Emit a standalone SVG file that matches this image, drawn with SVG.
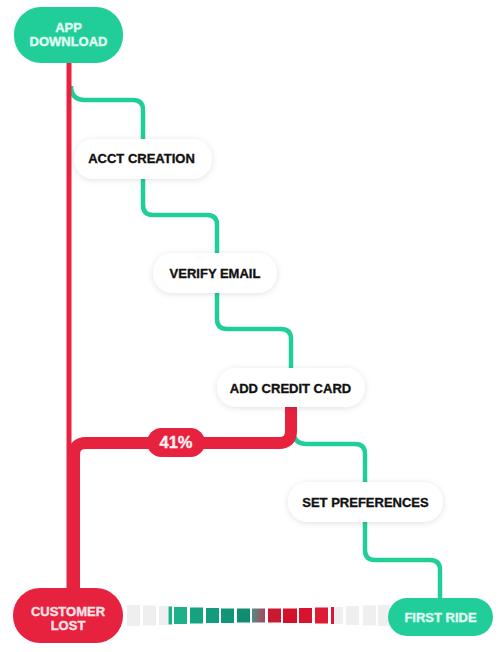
<svg xmlns="http://www.w3.org/2000/svg" width="504" height="652" viewBox="0 0 504 652">
<defs>
<style>
.g{fill:none;stroke:#21CE99;stroke-width:4.5;stroke-linecap:butt}
.r{fill:none;stroke:#E6223F;stroke-linecap:butt}
.w{fill:#FFFFFF;filter:url(#sh)}
.t{font-family:"Liberation Sans",Arial,sans-serif;font-weight:bold;font-size:13px;text-anchor:middle;stroke-width:0.35px}
.tb{fill:#111111;stroke:#111111}
.tg{fill:#E2FFF5;stroke:#E2FFF5}
.tr{fill:#FFE3E8;stroke:#FFE3E8}
.gy{fill:#EFEFEF}
</style>
<filter id="sh" x="-20%" y="-40%" width="140%" height="180%">
<feDropShadow dx="0" dy="1" stdDeviation="3" flood-color="#000000" flood-opacity="0.12"/>
</filter>
<linearGradient id="mix" x1="0" y1="0" x2="1" y2="0">
<stop offset="0" stop-color="#4F8E86"/>
<stop offset="1" stop-color="#A8475A"/>
</linearGradient>
</defs>
<rect width="504" height="652" fill="#FFFFFF"/>
<g id="connectors">
<path class="g" d="M71 86 Q71 100 85 100 H133 Q143 100 143 110 V140"/>
<path class="g" d="M143 178 V205 Q143 215 153 215 H207 Q217 215 217 225 V253"/>
<path class="g" d="M217 292 V319 Q217 329 227 329 H281 Q291 329 291 339 V368"/>
<path class="g" d="M293 430 Q293 444 307 444 H355 Q365 444 365 454 V483"/>
<path class="g" d="M365 522 V550 Q365 560 375 560 H430 Q440 560 440 570 V598"/>
<path class="r" stroke-width="5" d="M69 60 V592"/>
<path class="r" stroke-width="12" d="M291 405 V431 Q291 443 279 443 H86 Q74 443 74 455 V592"/>
</g>
<g id="bar">
<rect class="gy" x="127" y="605" width="13" height="21"/>
<rect class="gy" x="143" y="605.5" width="13" height="20"/>
<rect class="gy" x="159" y="606" width="9" height="19"/>
<rect fill="#1AB087" x="168.5" y="606.5" width="3.5" height="18"/>
<rect fill="#1DB089" x="174" y="607" width="13" height="17"/>
<rect fill="#15A280" x="190" y="607.5" width="13" height="16"/>
<rect fill="#129B7C" x="206" y="608" width="13" height="15"/>
<rect fill="#109577" x="221" y="608.5" width="13" height="14.5"/>
<rect fill="#0E8D72" x="237" y="608.5" width="13" height="14"/>
<rect fill="url(#mix)" x="252" y="608.5" width="13" height="14"/>
<rect fill="#C9182F" x="268" y="608.5" width="13" height="14"/>
<rect fill="#D3112A" x="283" y="608.5" width="14" height="14.5"/>
<rect fill="#D8132D" x="299" y="608" width="13" height="15"/>
<rect fill="#DF1A35" x="315" y="607.5" width="13" height="16"/>
<rect fill="#D8183A" x="331" y="607" width="3" height="17"/>
<rect class="gy" x="334" y="607" width="9" height="17"/>
<rect class="gy" x="346" y="606" width="13" height="19"/>
<rect class="gy" x="363" y="605.5" width="13" height="20"/>
<rect class="gy" x="378" y="605" width="12" height="21"/>
</g>
<g id="app-download">
<rect x="14" y="7" width="109" height="56" rx="27" fill="#21CE99"/>
<text class="t tg" x="68.5" y="32">APP</text>
<text class="t tg" x="68.5" y="46">DOWNLOAD</text>
</g>
<g id="acct-creation">
<rect class="w" x="74" y="139" width="138" height="40" rx="20"/>
<text class="t tb" x="141.5" y="163">ACCT CREATION</text>
</g>
<g id="verify-email">
<rect class="w" x="153" y="253" width="124" height="40" rx="20"/>
<text class="t tb" x="215" y="277.5">VERIFY EMAIL</text>
</g>
<g id="add-credit-card">
<rect class="w" x="217" y="368" width="148" height="39" rx="19.5"/>
<text class="t tb" x="290.5" y="392.5">ADD CREDIT CARD</text>
</g>
<g id="set-preferences">
<rect class="w" x="288" y="482" width="155" height="40" rx="20"/>
<text class="t tb" x="365.5" y="507">SET PREFERENCES</text>
</g>
<g id="pct-41">
<rect x="147" y="428" width="58" height="29" rx="14.5" fill="#E6223F"/>
<text class="t" x="176" y="448" style="font-size:16.5px;fill:#FFEEF0;stroke:#FFEEF0">41%</text>
</g>
<g id="customer-lost">
<rect x="13" y="588" width="110" height="55" rx="27" fill="#E6223F"/>
<text class="t tr" x="68" y="616">CUSTOMER</text>
<text class="t tr" x="68" y="630">LOST</text>
</g>
<g id="first-ride">
<rect x="388" y="598" width="105" height="38" rx="19" fill="#21CE99"/>
<text class="t tg" x="440.5" y="622">FIRST RIDE</text>
</g>
</svg>
